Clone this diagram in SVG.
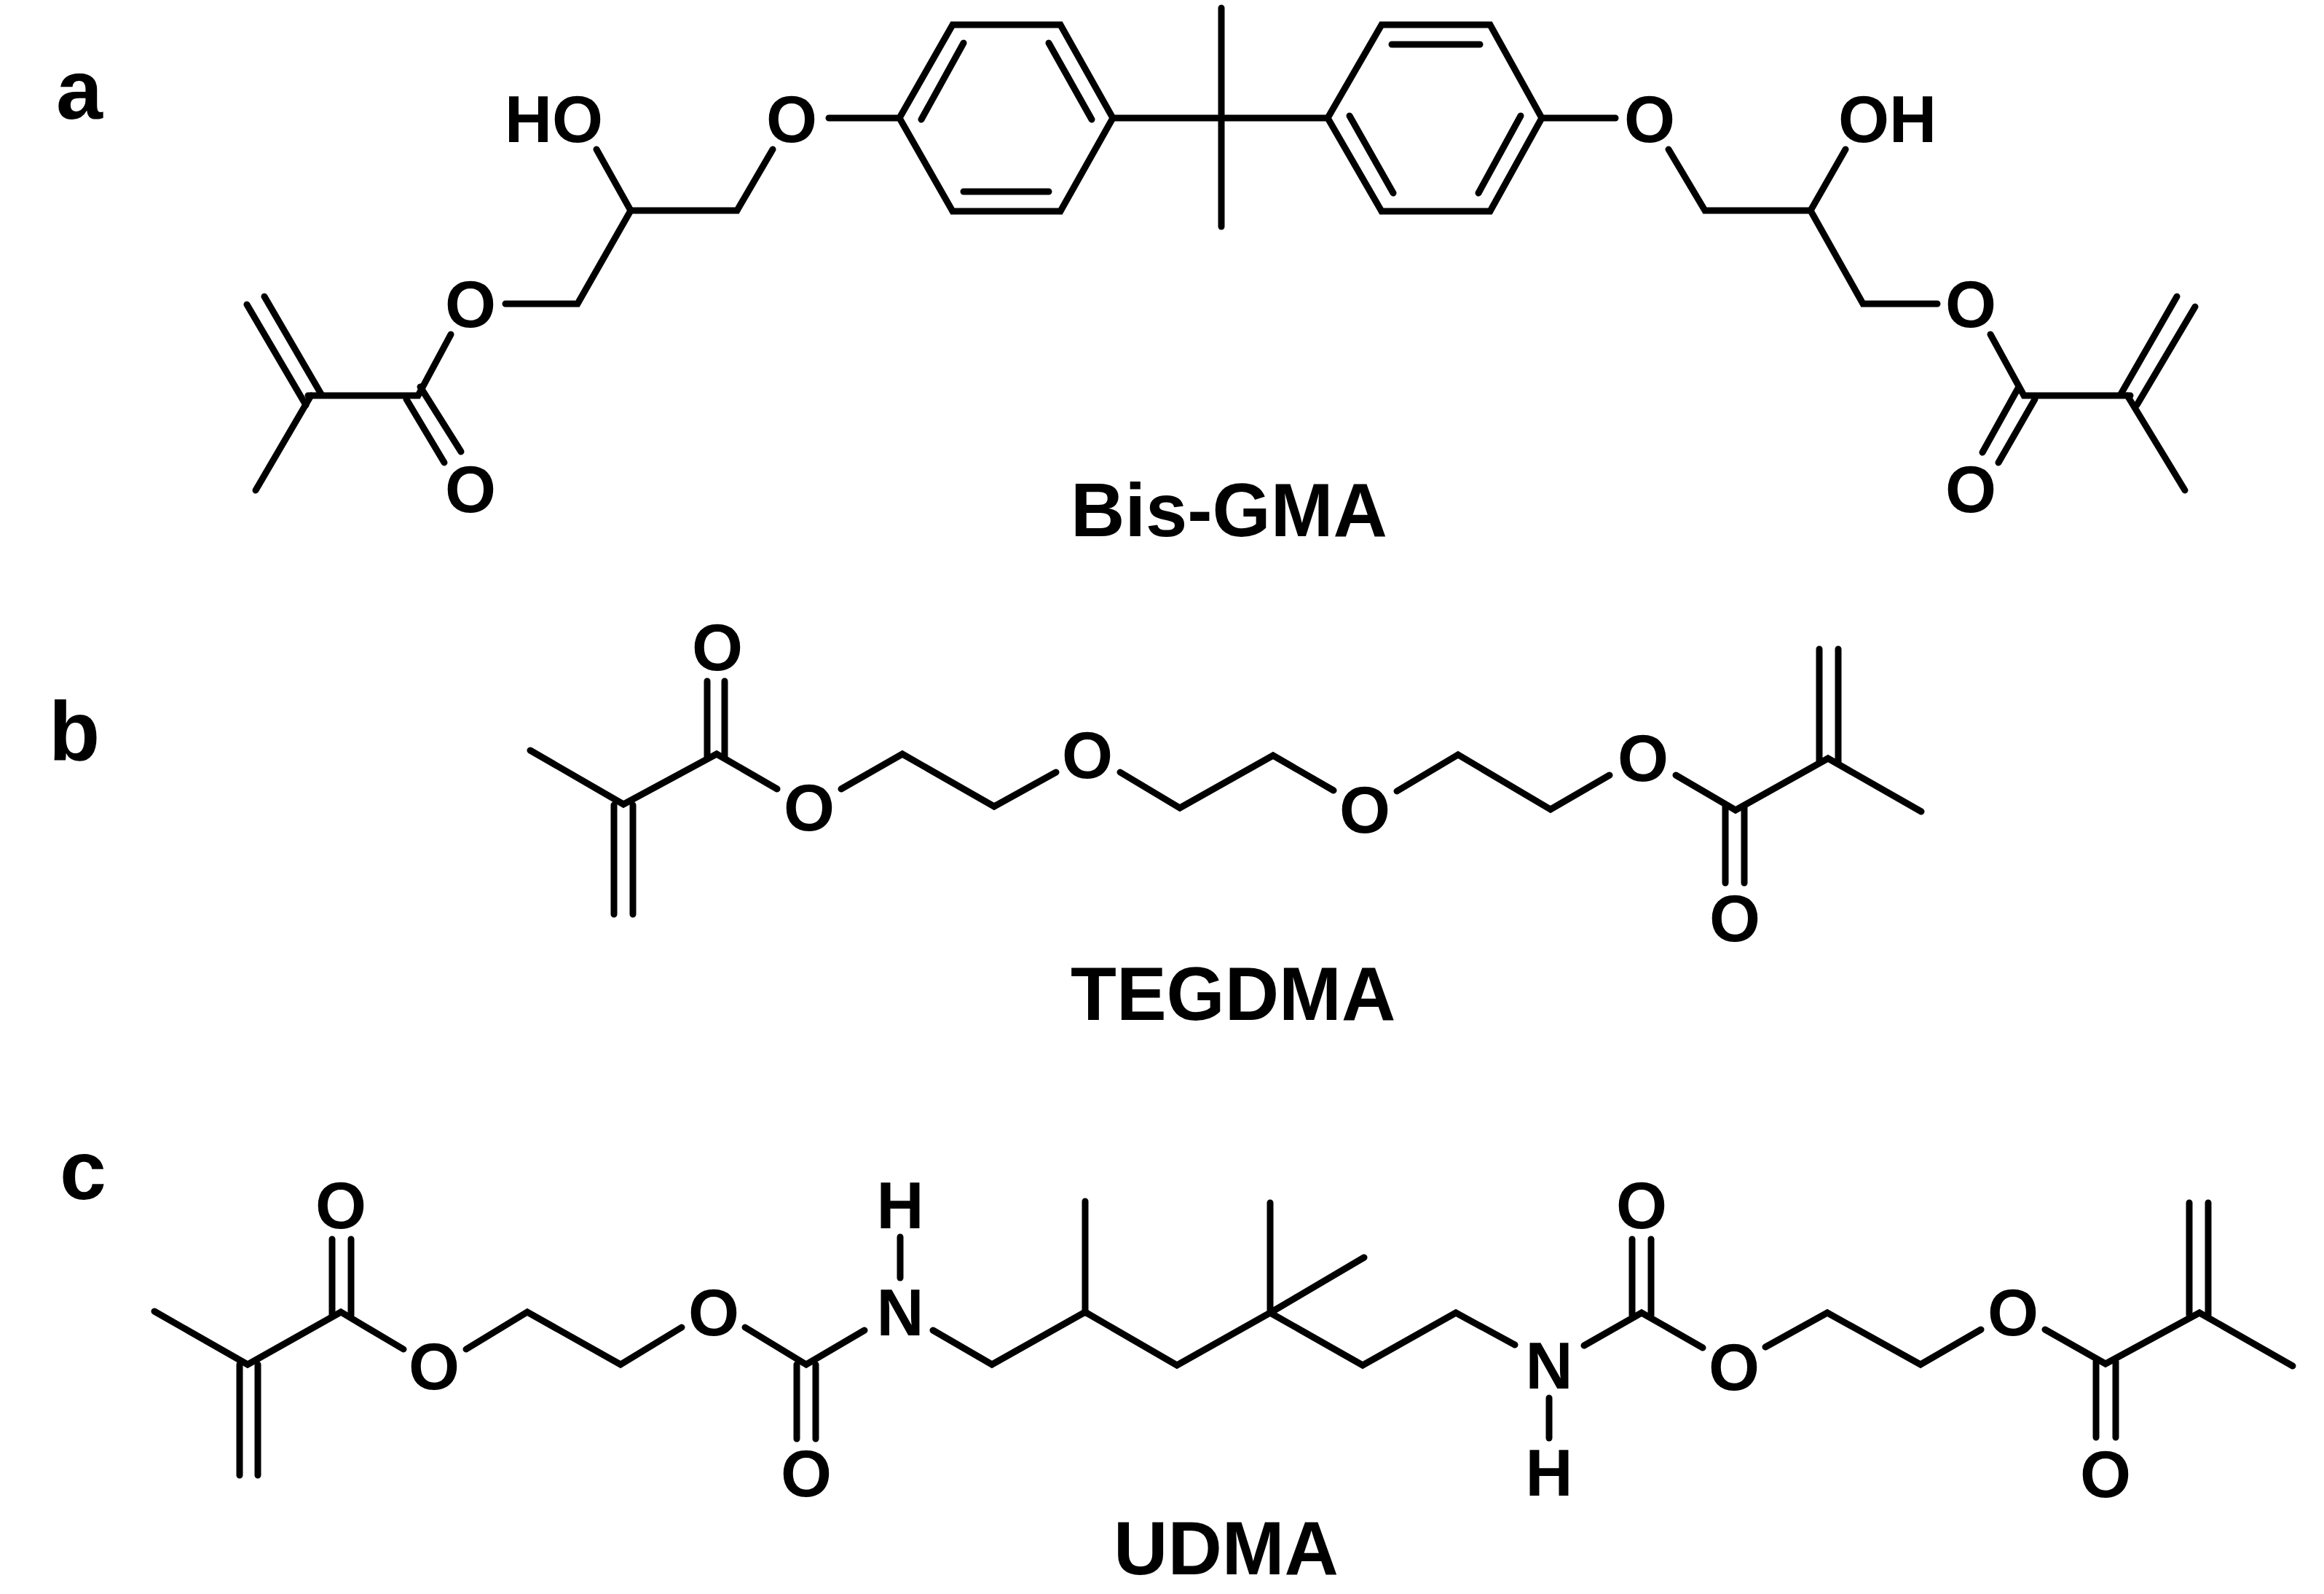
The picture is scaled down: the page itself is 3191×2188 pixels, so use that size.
<svg xmlns="http://www.w3.org/2000/svg" width="3191" height="2188" viewBox="0 0 3191 2188">
<style>
.b{fill:none;stroke:#000;stroke-width:9;stroke-linecap:round;stroke-linejoin:miter;stroke-miterlimit:6}
text{font-family:"Liberation Sans",Arial,sans-serif;font-weight:bold;fill:#000}
.a{font-size:90px;text-anchor:middle}
.s{font-size:90px}
.n{font-size:103px}
.l{font-size:115px}
</style>
<rect width="3191" height="2188" fill="#fff"/>
<g id="connectors" class="b">
<g id="bonds-a">
<path d="M1138 162H1235L1308 34H1456L1528 162L1456 290H1308L1235 162"/>
<path d="M1265 164L1323 59M1440 59L1499 164M1323 263H1440"/>
<path d="M1528 162H1823L1897 34H2046L2117 162L2046 290H1897L1823 162"/>
<path d="M1911 61H2032M1853 159L1913 265M2088 159L2030 265"/>
<path d="M1677 11V311"/>
<path d="M2117 162H2218"/>
<path d="M1061 205L1012 289H866L793 417H694"/>
<path d="M819 205L866 289"/>
<path d="M619 459L574 543H423"/>
<path d="M351 673L427 543"/>
<path d="M339 418L420 556M363 407L441 541"/>
<path d="M577 531L633 620M558 548L610 635"/>
<path d="M2291 205L2341 289H2486L2558 417H2660"/>
<path d="M2534 205L2486 289"/>
<path d="M2733 459L2779 543H2925"/>
<path d="M3000 673L2921 543"/>
<path d="M3014 421L2934 556M2989 407L2912 541"/>
<path d="M2772 531L2722 621M2794 548L2744 635"/>
</g>
<g id="bonds-b">
<path d="M728 1030L856 1104L984 1035L1067 1083"/>
<path d="M843 1105V1255M869 1105V1255"/>
<path d="M971 1040V935M995 1040V935"/>
<path d="M1155 1083L1239 1035L1365 1107L1450 1060"/>
<path d="M1538 1060L1620 1109L1748 1037L1831 1085"/>
<path d="M1918 1086L2002 1036L2129 1111L2210 1064"/>
<path d="M2301 1064L2383 1112L2510 1041L2638 1114"/>
<path d="M2498 1046V891M2524 1046V891"/>
<path d="M2369 1107V1212M2395 1107V1212"/>
</g>
<g id="bonds-c">
<path d="M212 1800L340 1873L468 1801L554 1852"/>
<path d="M329 1873V2025M354 1873V2025"/>
<path d="M456 1805V1701M482 1805V1701"/>
<path d="M640 1852L724 1801L852 1873L936 1822"/>
<path d="M1023 1822L1107 1873L1187 1826"/>
<path d="M1094 1873V1975M1120 1873V1975"/>
<path d="M1236 1698V1754"/>
<path d="M1281 1826L1362 1873L1490 1801L1616 1874L1744 1802L1871 1874L1999 1802L2080 1846"/>
<path d="M1490 1802V1649"/>
<path d="M1744 1802V1651M1744 1802L1873 1726"/>
<path d="M2127 1919V1974"/>
<path d="M2175 1847L2254 1802L2338 1850"/>
<path d="M2241 1805V1701M2267 1805V1701"/>
<path d="M2424 1849L2509 1802L2637 1873L2720 1825"/>
<path d="M2808 1825L2891 1872L3020 1802L3148 1875"/>
<path d="M3006 1805V1651M3032 1805V1651"/>
<path d="M2878 1869V1973M2905 1869V1973"/>
</g>
</g>
<g id="panel-labels">
<text id="label-a" class="l" x="77" y="163">a</text>
<text id="label-b" class="l" x="67" y="1044">b</text>
<text id="label-c" class="l" x="82" y="1646">c</text>
</g>
<g id="bis-gma">
<g id="a-HO"><text class="s" x="693" y="195">HO</text></g>
<g id="a-OH"><text class="s" x="2524" y="195">OH</text></g>
<g id="a-O1"><text class="a" x="1087" y="195">O</text></g>
<g id="a-O2"><text class="a" x="646" y="449">O</text></g>
<g id="a-O3"><text class="a" x="646" y="703">O</text></g>
<g id="a-O4"><text class="a" x="2265" y="195">O</text></g>
<g id="a-O5"><text class="a" x="2706" y="449">O</text></g>
<g id="a-O6"><text class="a" x="2706" y="703">O</text></g>
<g id="a-name"><text class="n" x="1470" y="736">Bis-GMA</text></g>
</g>
<g id="tegdma">
<g id="b-O1"><text class="a" x="985" y="920">O</text></g>
<g id="b-O2"><text class="a" x="1111" y="1140">O</text></g>
<g id="b-O3"><text class="a" x="1493" y="1068">O</text></g>
<g id="b-O4"><text class="a" x="1874" y="1143">O</text></g>
<g id="b-O5"><text class="a" x="2256" y="1072">O</text></g>
<g id="b-O6"><text class="a" x="2382" y="1292">O</text></g>
<g id="b-name"><text class="n" x="1470" y="1400">TEGDMA</text></g>
</g>
<g id="udma">
<g id="c-O1"><text class="a" x="468" y="1686">O</text></g>
<g id="c-O2"><text class="a" x="596" y="1907">O</text></g>
<g id="c-O3"><text class="a" x="980" y="1833">O</text></g>
<g id="c-O4"><text class="a" x="1107" y="2054">O</text></g>
<g id="c-H1"><text class="a" x="1236" y="1686">H</text></g>
<g id="c-N1"><text class="a" x="1236" y="1833">N</text></g>
<g id="c-N2"><text class="a" x="2127" y="1906">N</text></g>
<g id="c-H2"><text class="a" x="2127" y="2053">H</text></g>
<g id="c-O5"><text class="a" x="2254" y="1686">O</text></g>
<g id="c-O6"><text class="a" x="2381" y="1908">O</text></g>
<g id="c-O7"><text class="a" x="2764" y="1833">O</text></g>
<g id="c-O8"><text class="a" x="2891" y="2055">O</text></g>
<g id="c-name"><text class="n" x="1529" y="2161">UDMA</text></g>
</g>
</svg>
